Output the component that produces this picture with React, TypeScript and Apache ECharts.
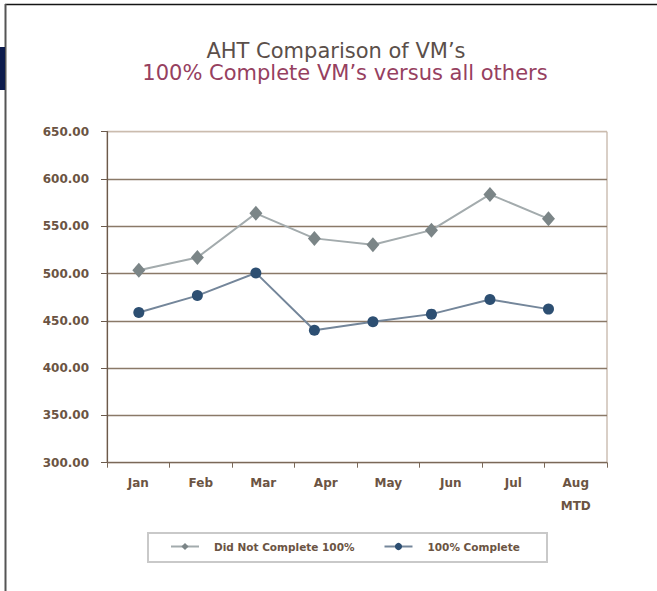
import React, { useEffect, useRef } from "react";
import * as echarts from "echarts";

const months = ["Jan", "Feb", "Mar", "Apr", "May", "Jun", "Jul", "Aug\nMTD"];
const didNotComplete = [503.5, 517, 563.7, 537.2, 530.4, 545.9, 583.7, 557.9];
const complete100 = [458.8, 476.7, 500.7, 440.1, 449, 457.1, 472.5, 462.4];
const seriesNames = ["Did Not Complete 100%", "100% Complete"];
const titleLines = ["AHT Comparison of VM\u2019s", "100% Complete VM\u2019s versus all others"];
const yMin = 300;
const yMax = 650;
const yStep = 50;

const FONT = "DejaVu Sans";
const LABEL = "#6b5443";

export default function App() {
  const ref = useRef<HTMLDivElement>(null);
  useEffect(() => {
    document.body.style.margin = "0";
    if (!ref.current) return;
    const chart = echarts.init(ref.current, undefined, { renderer: "svg" });
    const gridColors = ["#8a7968", "#8a7968", "#8a7968", "#8a7968", "#8a7968", "#8a7968", "#8a7968", "#cbbcae"];
    chart.setOption({
      animation: false,
      backgroundColor: "#ffffff",
      graphic: [
        { type: "line", shape: { x1: 5, y1: 4.5, x2: 657, y2: 4.5 }, style: { stroke: "#151515", lineWidth: 1.5 } },
        { type: "line", shape: { x1: 5.5, y1: 4, x2: 5.5, y2: 591 }, style: { stroke: "#555555", lineWidth: 2 } },
        { type: "rect", shape: { x: 0, y: 47, width: 5, height: 43 }, style: { fill: "#0c1b4c" } },
        {
          type: "text",
          x: 336,
          y: 51,
          style: { text: titleLines[0], fill: "#5b4f4a", font: `21px "${FONT}"`, align: "center", verticalAlign: "middle" },
        },
        {
          type: "text",
          x: 345,
          y: 73,
          style: { text: titleLines[1], fill: "#96405f", font: `21px "${FONT}"`, align: "center", verticalAlign: "middle" },
        },
        {
          type: "rect",
          shape: { x: 148, y: 533, width: 399, height: 29 },
          style: { fill: "none", stroke: "#c9c9c9", lineWidth: 2 },
        },
      ],
      grid: {
        left: 107,
        top: 131.7,
        right: 50,
        bottom: 128.3,
        show: true,
        borderColor: "#b39f8e",
        borderWidth: 1,
        backgroundColor: "transparent",
      },
      legend: {
        data: seriesNames,
        left: 170,
        top: 541,
        padding: 0,
        itemWidth: 28,
        itemHeight: 9,
        itemGap: 29,
        textStyle: { color: LABEL, fontSize: 10.5, fontWeight: "bold", fontFamily: FONT, padding: [0, 0, 0, 10] },
      },
      xAxis: [
        {
          type: "category",
          data: months,
          boundaryGap: true,
          axisLine: { onZero: false, lineStyle: { color: "#7a6858", width: 1.2 } },
          axisTick: { show: true, length: 5, interval: 0, lineStyle: { color: "#7a6858" } },
          axisLabel: {
            interval: 0,
            color: LABEL,
            fontSize: 12,
            fontWeight: "bold",
            fontFamily: FONT,
            margin: 9,
            lineHeight: 23,
          },
          splitLine: { show: false },
        },
        {
          type: "value",
          min: -0.544,
          max: 8.0,
          show: false,
          axisLine: { show: false, onZero: false },
          splitLine: { show: false },
        },
      ],
      yAxis: {
        type: "value",
        min: yMin,
        max: yMax,
        interval: yStep,
        axisLine: { show: true, onZero: false, lineStyle: { color: "#6b5a4c", width: 1.2 } },
        axisTick: { show: true, length: 6, lineStyle: { color: "#6b5a4c" } },
        axisLabel: {
          color: LABEL,
          fontSize: 12,
          fontWeight: "bold",
          fontFamily: FONT,
          margin: 18,
          padding: [4, 0, 0, 0],
          formatter: (v: number) => v.toFixed(2),
        },
        splitLine: { show: true, lineStyle: { color: gridColors, width: 1.3 } },
      },
      series: [
        {
          name: seriesNames[0],
          type: "line",
          xAxisIndex: 1,
          data: didNotComplete.map((v, i) => [i, v]),
          symbol: "diamond",
          symbolSize: [13, 15],
          lineStyle: { color: "#a3abad", width: 2 },
          itemStyle: { color: "#7b8587" },
        },
        {
          name: seriesNames[1],
          type: "line",
          xAxisIndex: 1,
          data: complete100.map((v, i) => [i, v]),
          symbol: "circle",
          symbolSize: 11,
          lineStyle: { color: "#74869a", width: 2 },
          itemStyle: { color: "#2d4f72" },
        },
      ],
    });
    return () => chart.dispose();
  }, []);
  return <div ref={ref} style={{ width: 657, height: 591 }} />;
}
